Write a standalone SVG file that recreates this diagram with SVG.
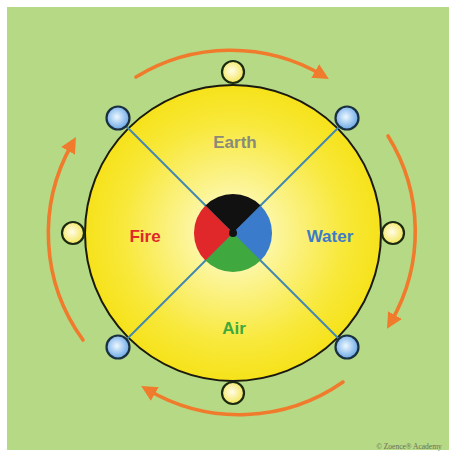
<svg xmlns="http://www.w3.org/2000/svg" width="456" height="457" viewBox="0 0 456 457">
<defs>
<style>
.lbl{font-family:"Liberation Sans",Arial,sans-serif;font-weight:bold;font-size:17px;text-anchor:middle}
.arc{fill:none;stroke:#f07b2c;stroke-width:3.6;stroke-linecap:round}
.ax{stroke:#4288b0;stroke-width:2}
.y{fill:url(#gy);stroke:#1a2a10;stroke-width:2.2}
.b{fill:url(#gb);stroke:#1a3040;stroke-width:2.2}
</style>
<radialGradient id="gmain" cx="0.5" cy="0.5" r="0.5">
<stop offset="0" stop-color="#fffef0"/>
<stop offset="0.3" stop-color="#fcf59a"/>
<stop offset="0.75" stop-color="#f8e83a"/>
<stop offset="1" stop-color="#f6e21a"/>
</radialGradient>
<radialGradient id="gy" cx="0.45" cy="0.45" r="0.55">
<stop offset="0" stop-color="#fffde8"/>
<stop offset="1" stop-color="#f4e65a"/>
</radialGradient>
<radialGradient id="gb" cx="0.45" cy="0.45" r="0.55">
<stop offset="0" stop-color="#eef8ff"/>
<stop offset="1" stop-color="#6aa8e6"/>
</radialGradient>
<marker id="ah" viewBox="0 0 10 10" refX="5" refY="5" markerWidth="4.4" markerHeight="4.4" orient="auto" markerUnits="strokeWidth">
<path d="M0,0 L10,5 L0,10 Z" fill="#f07b2c"/>
</marker>
</defs>
<rect x="0" y="0" width="456" height="457" fill="#ffffff"/>
<rect x="7" y="7" width="442" height="443" fill="#b6d985"/>
<g id="main-circle">
<circle cx="233" cy="233" r="148" fill="url(#gmain)" stroke="#1a1a10" stroke-width="2"/>
</g>
<g id="connectors">
<path class="arc" d="M136,77 A181,181 0 0 1 322,75" marker-end="url(#ah)"/>
<path class="arc" d="M388,136 A181,181 0 0 1 391,322" marker-end="url(#ah)"/>
<path class="arc" d="M343,382 A181,181 0 0 1 148,390" marker-end="url(#ah)"/>
<path class="arc" d="M83,340 A181,181 0 0 1 72,144" marker-end="url(#ah)"/>
<line class="ax" x1="118" y1="118" x2="348" y2="348"/>
<line class="ax" x1="348" y1="118" x2="118" y2="348"/>
</g>
<g id="center">
<path d="M233,233 L205.4,205.4 A39,39 0 0 1 260.6,205.4 Z" fill="#111111"/>
<path d="M233,233 L260.6,205.4 A39,39 0 0 1 260.6,260.6 Z" fill="#3b7bcb"/>
<path d="M233,233 L260.6,260.6 A39,39 0 0 1 205.4,260.6 Z" fill="#3fa83e"/>
<path d="M233,233 L205.4,260.6 A39,39 0 0 1 205.4,205.4 Z" fill="#e0282a"/>
<circle cx="233" cy="233" r="4" fill="#111111"/>
</g>
<g id="node-top"><circle class="y" cx="233" cy="72" r="11"/></g>
<g id="node-right"><circle class="y" cx="393" cy="233" r="11"/></g>
<g id="node-bottom"><circle class="y" cx="233" cy="393" r="11"/></g>
<g id="node-left"><circle class="y" cx="73" cy="233" r="11"/></g>
<g id="node-tl"><circle class="b" cx="118" cy="118" r="11.5"/></g>
<g id="node-tr"><circle class="b" cx="347" cy="118" r="11.5"/></g>
<g id="node-bl"><circle class="b" cx="118" cy="347" r="11.5"/></g>
<g id="node-br"><circle class="b" cx="347" cy="347" r="11.5"/></g>
<g id="labels">
<text class="lbl" x="235" y="148" fill="#8a8a78">Earth</text>
<text class="lbl" x="145" y="242" fill="#e0282a">Fire</text>
<text class="lbl" x="330" y="242" fill="#3b7bcb">Water</text>
<text class="lbl" x="234" y="334" fill="#3fa83e">Air</text>
<text x="409" y="449" font-family="'Liberation Serif',serif" font-size="7.5" fill="#66705a" text-anchor="middle">© Zoence® Academy</text>
</g>
</svg>
